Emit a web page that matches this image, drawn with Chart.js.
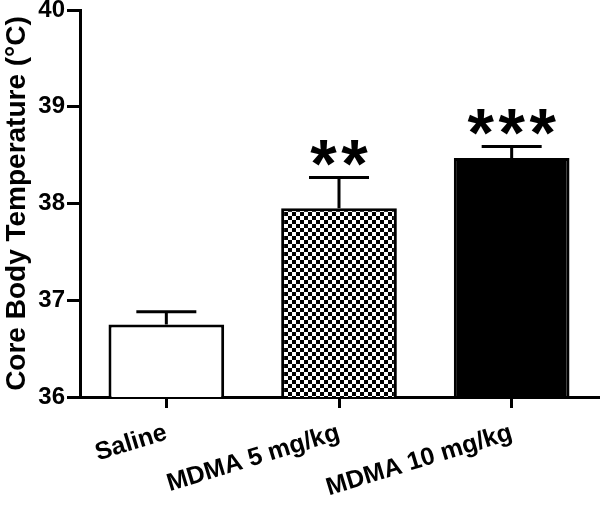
<!DOCTYPE html>
<html>
<head>
<meta charset="utf-8">
<script src="https://cdn.jsdelivr.net/npm/chart.js@4/dist/chart.umd.min.js"></script>
<style>
html,body{margin:0;padding:0;background:#fff;}
#wrap{width:600px;height:508px;position:relative;}
</style>
</head>
<body>
<div id="wrap"><canvas id="c" width="600" height="508"></canvas></div>
<script>
const categories = ["Saline", "MDMA 5 mg/kg", "MDMA 10 mg/kg"];
const meanTemps = [36.75, 37.95, 38.47];
const semErrors = [0.13, 0.32, 0.12];
const significance = ["", "**", "***"];
const yTicks = [36, 37, 38, 39, 40];

const FONT = "'Liberation Sans', Arial, Helvetica, sans-serif";

function checkerPattern() {
  const c = document.createElement('canvas');
  c.width = 8; c.height = 8;
  const g = c.getContext('2d');
  g.fillStyle = '#fff'; g.fillRect(0,0,8,8);
  g.fillStyle = '#000';
  g.fillRect(0,0,4,4); g.fillRect(4,4,4,4);
  return document.getElementById('c').getContext('2d').createPattern(c, 'repeat');
}

const errStars = {
  id: 'errStars',
  afterDatasetsDraw(chart) {
    const ctx = chart.ctx;
    const ys = chart.scales.y;
    const meta = chart.getDatasetMeta(0);
    ctx.save();
    ctx.strokeStyle = '#000';
    ctx.lineWidth = 3;
    ctx.lineCap = 'butt';
    meta.data.forEach((bar, i) => {
      const x = bar.x;
      const yTop = ys.getPixelForValue(meanTemps[i]);
      const yErr = ys.getPixelForValue(meanTemps[i] + semErrors[i]);
      ctx.beginPath();
      ctx.moveTo(x, yTop);
      ctx.lineTo(x, yErr);
      ctx.moveTo(x - 30, yErr);
      ctx.lineTo(x + 30, yErr);
      ctx.stroke();
      const s = significance[i];
      if (s) {
        ctx.font = 'bold 68px ' + FONT;
        ctx.fillStyle = '#000';
        ctx.textAlign = 'center';
        ctx.textBaseline = 'alphabetic';
        const m = ctx.measureText('*');
        const cy = yErr - 24;
        const base = cy + (m.actualBoundingBoxAscent - m.actualBoundingBoxDescent) / 2;
        const n = s.length;
        const sp = 31;
        for (let k = 0; k < n; k++) {
          const sx = x + (k - (n - 1) / 2) * sp;
          ctx.fillText('*', sx, base);
        }
      }
    });
    ctx.restore();
  }
};

new Chart(document.getElementById('c'), {
  type: 'bar',
  data: {
    labels: categories,
    datasets: [{
      data: meanTemps,
      backgroundColor: ['#ffffff', checkerPattern(), '#000000'],
      borderColor: '#000',
      borderWidth: 3,
      borderSkipped: 'bottom',
      barPercentage: 0.67,
      categoryPercentage: 1.0
    }]
  },
  options: {
    responsive: false,
    animation: false,
    devicePixelRatio: 1,
    layout: { padding: { top: 10, right: 2, left: 0, bottom: 0 } },
    plugins: { legend: { display: false }, tooltip: { enabled: false } },
    scales: {
      x: {
        grid: { display: true, drawOnChartArea: false, offset: false, drawTicks: true, tickLength: 11, lineWidth: 3, color: '#000' },
        border: { display: true, color: '#000', width: 3 },
        ticks: { color: '#000', font: { family: FONT, size: 25, weight: 'bold' }, minRotation: 17, maxRotation: 17, padding: 10 },
        afterFit(s) { s.height = 111; s.paddingLeft = 0; s.paddingRight = 0; }
      },
      y: {
        min: 36, max: 40,
        afterBuildTicks(s) { s.ticks = yTicks.map(v => ({ value: v })); },
        grid: { display: true, drawOnChartArea: false, drawTicks: true, tickLength: 13, lineWidth: 3, color: '#000' },
        border: { display: true, color: '#000', width: 3 },
        ticks: { color: '#000', font: { family: FONT, size: 24, weight: 'bold' }, padding: 2 },
        title: { display: true, text: 'Core Body Temperature (°C)', color: '#000', font: { family: FONT, size: 28, weight: 'bold' }, padding: { top: 0, bottom: 0 } },
        afterFit(s) { s.width = 80; s.paddingTop = 0; s.paddingBottom = 0; }
      }
    }
  },
  plugins: [errStars]
});
</script>
</body>
</html>
